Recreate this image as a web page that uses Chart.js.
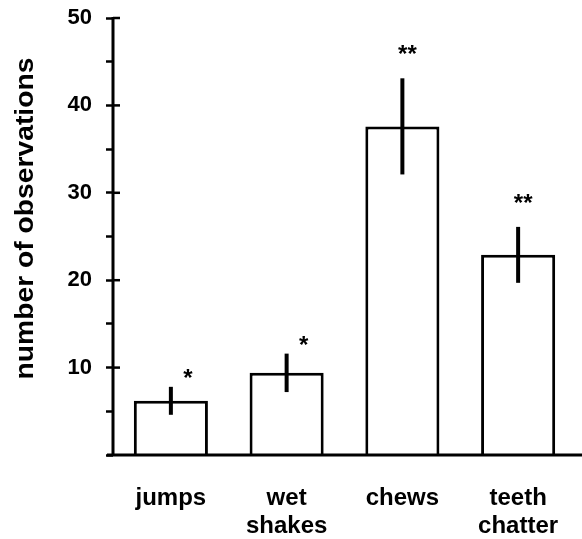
<!DOCTYPE html>
<html>
<head>
<meta charset="utf-8">
<script src="https://cdn.jsdelivr.net/npm/chart.js@4"></script>
<style>
  body { margin: 0; background: #fff; }
</style>
</head>
<body>
<canvas id="myChart" width="582" height="539"></canvas>
<script>
const categories = ["jumps", ["wet", "shakes"], "chews", ["teeth", "chatter"]];
const meanValues = [6.2, 9.4, 37.6, 22.9];
const semValues = [1.6, 2.2, 5.5, 3.2];
const stars = ["*", "*", "**", "**"];
const yTicks = [10, 20, 30, 40, 50];
const yTitle = "number of observations";

const FONT = "'Liberation Sans', Arial, Helvetica, sans-serif";

// error bars, stars, the y title and the axes
const extras = {
  id: "extras",
  afterDatasetsDraw(chart) {
    const ctx = chart.ctx;
    const y = chart.scales.y;
    const area = chart.chartArea;
    ctx.save();
    ctx.strokeStyle = "#000";
    ctx.fillStyle = "#000";

    const meta = chart.getDatasetMeta(0);
    meta.data.forEach((bar, i) => {
      const top = y.getPixelForValue(meanValues[i] + semValues[i]);
      const bottom = y.getPixelForValue(meanValues[i] - semValues[i]);
      ctx.lineWidth = 4;
      ctx.beginPath();
      ctx.moveTo(bar.x, top);
      ctx.lineTo(bar.x, bottom);
      ctx.stroke();

      ctx.font = "bold 24px " + FONT;
      ctx.textAlign = "center";
      ctx.textBaseline = "alphabetic";
      if (stars[i].length == 1) {
        ctx.fillText(stars[i], bar.x + 17, top - 1);
      } else {
        ctx.fillText(stars[i], bar.x + 5, top - 16);
      }
    });

    // y title, a bit above the middle like the original
    ctx.save();
    ctx.translate(33, (area.top + area.bottom) / 2 - 18);
    ctx.rotate(-Math.PI / 2);
    ctx.scale(1.13, 1);
    ctx.font = "bold 25px " + FONT;
    ctx.textAlign = "center";
    ctx.textBaseline = "alphabetic";
    ctx.fillText(yTitle, 0, 0);
    ctx.restore();

    // axes
    const y0 = y.getPixelForValue(0);
    ctx.lineWidth = 3;
    ctx.beginPath();
    ctx.moveTo(area.left - 6, y0);
    ctx.lineTo(chart.width, y0);
    ctx.moveTo(area.left, y.getPixelForValue(50) - 1);
    ctx.lineTo(area.left, y0);
    ctx.stroke();

    ctx.lineWidth = 2.5;
    yTicks.forEach(v => {
      const py = y.getPixelForValue(v);
      ctx.beginPath();
      ctx.moveTo(area.left, py);
      ctx.lineTo(area.left + 7, py);
      ctx.stroke();
    });
    ctx.restore();
  }
};

const data = {
  labels: categories,
  datasets: [
    {
      data: meanValues,
      backgroundColor: "#fff",
      borderColor: "#000",
      borderWidth: 3,
      barPercentage: 0.64,
      categoryPercentage: 1,
    },
  ],
};

const config = {
  type: "bar",
  data: data,
  plugins: [extras],
  options: {
    responsive: false,
    animation: false,
    layout: { padding: { top: 18, right: 6, left: 0, bottom: 0 } },
    plugins: {
      legend: { display: false },
      tooltip: { enabled: false },
    },
    scales: {
      x: {
        grid: { display: false, drawTicks: false },
        border: { display: false },
        ticks: {
          color: "#000",
          padding: 30,
          font: { family: FONT, size: 24, weight: "bold", lineHeight: 1.15 },
        },
        afterFit(scale) {
          scale.height = 84;
          scale.paddingLeft = 0;
          scale.paddingRight = 0;
        },
      },
      y: {
        min: 0,
        max: 50,
        grid: { drawOnChartArea: false, tickLength: 7, tickWidth: 2.5, tickColor: "#000" },
        border: { display: false },
        ticks: {
          stepSize: 5,
          color: "#000",
          padding: 14,
          font: { family: FONT, size: 22, weight: "bold" },
          callback: (v) => (yTicks.includes(v) ? v : ""),
        },
        afterFit(scale) {
          scale.width = 113;
          scale.paddingTop = 0;
          scale.paddingBottom = 0;
        },
      },
    },
  },
};

new Chart(document.getElementById("myChart"), config);
</script>
</body>
</html>
